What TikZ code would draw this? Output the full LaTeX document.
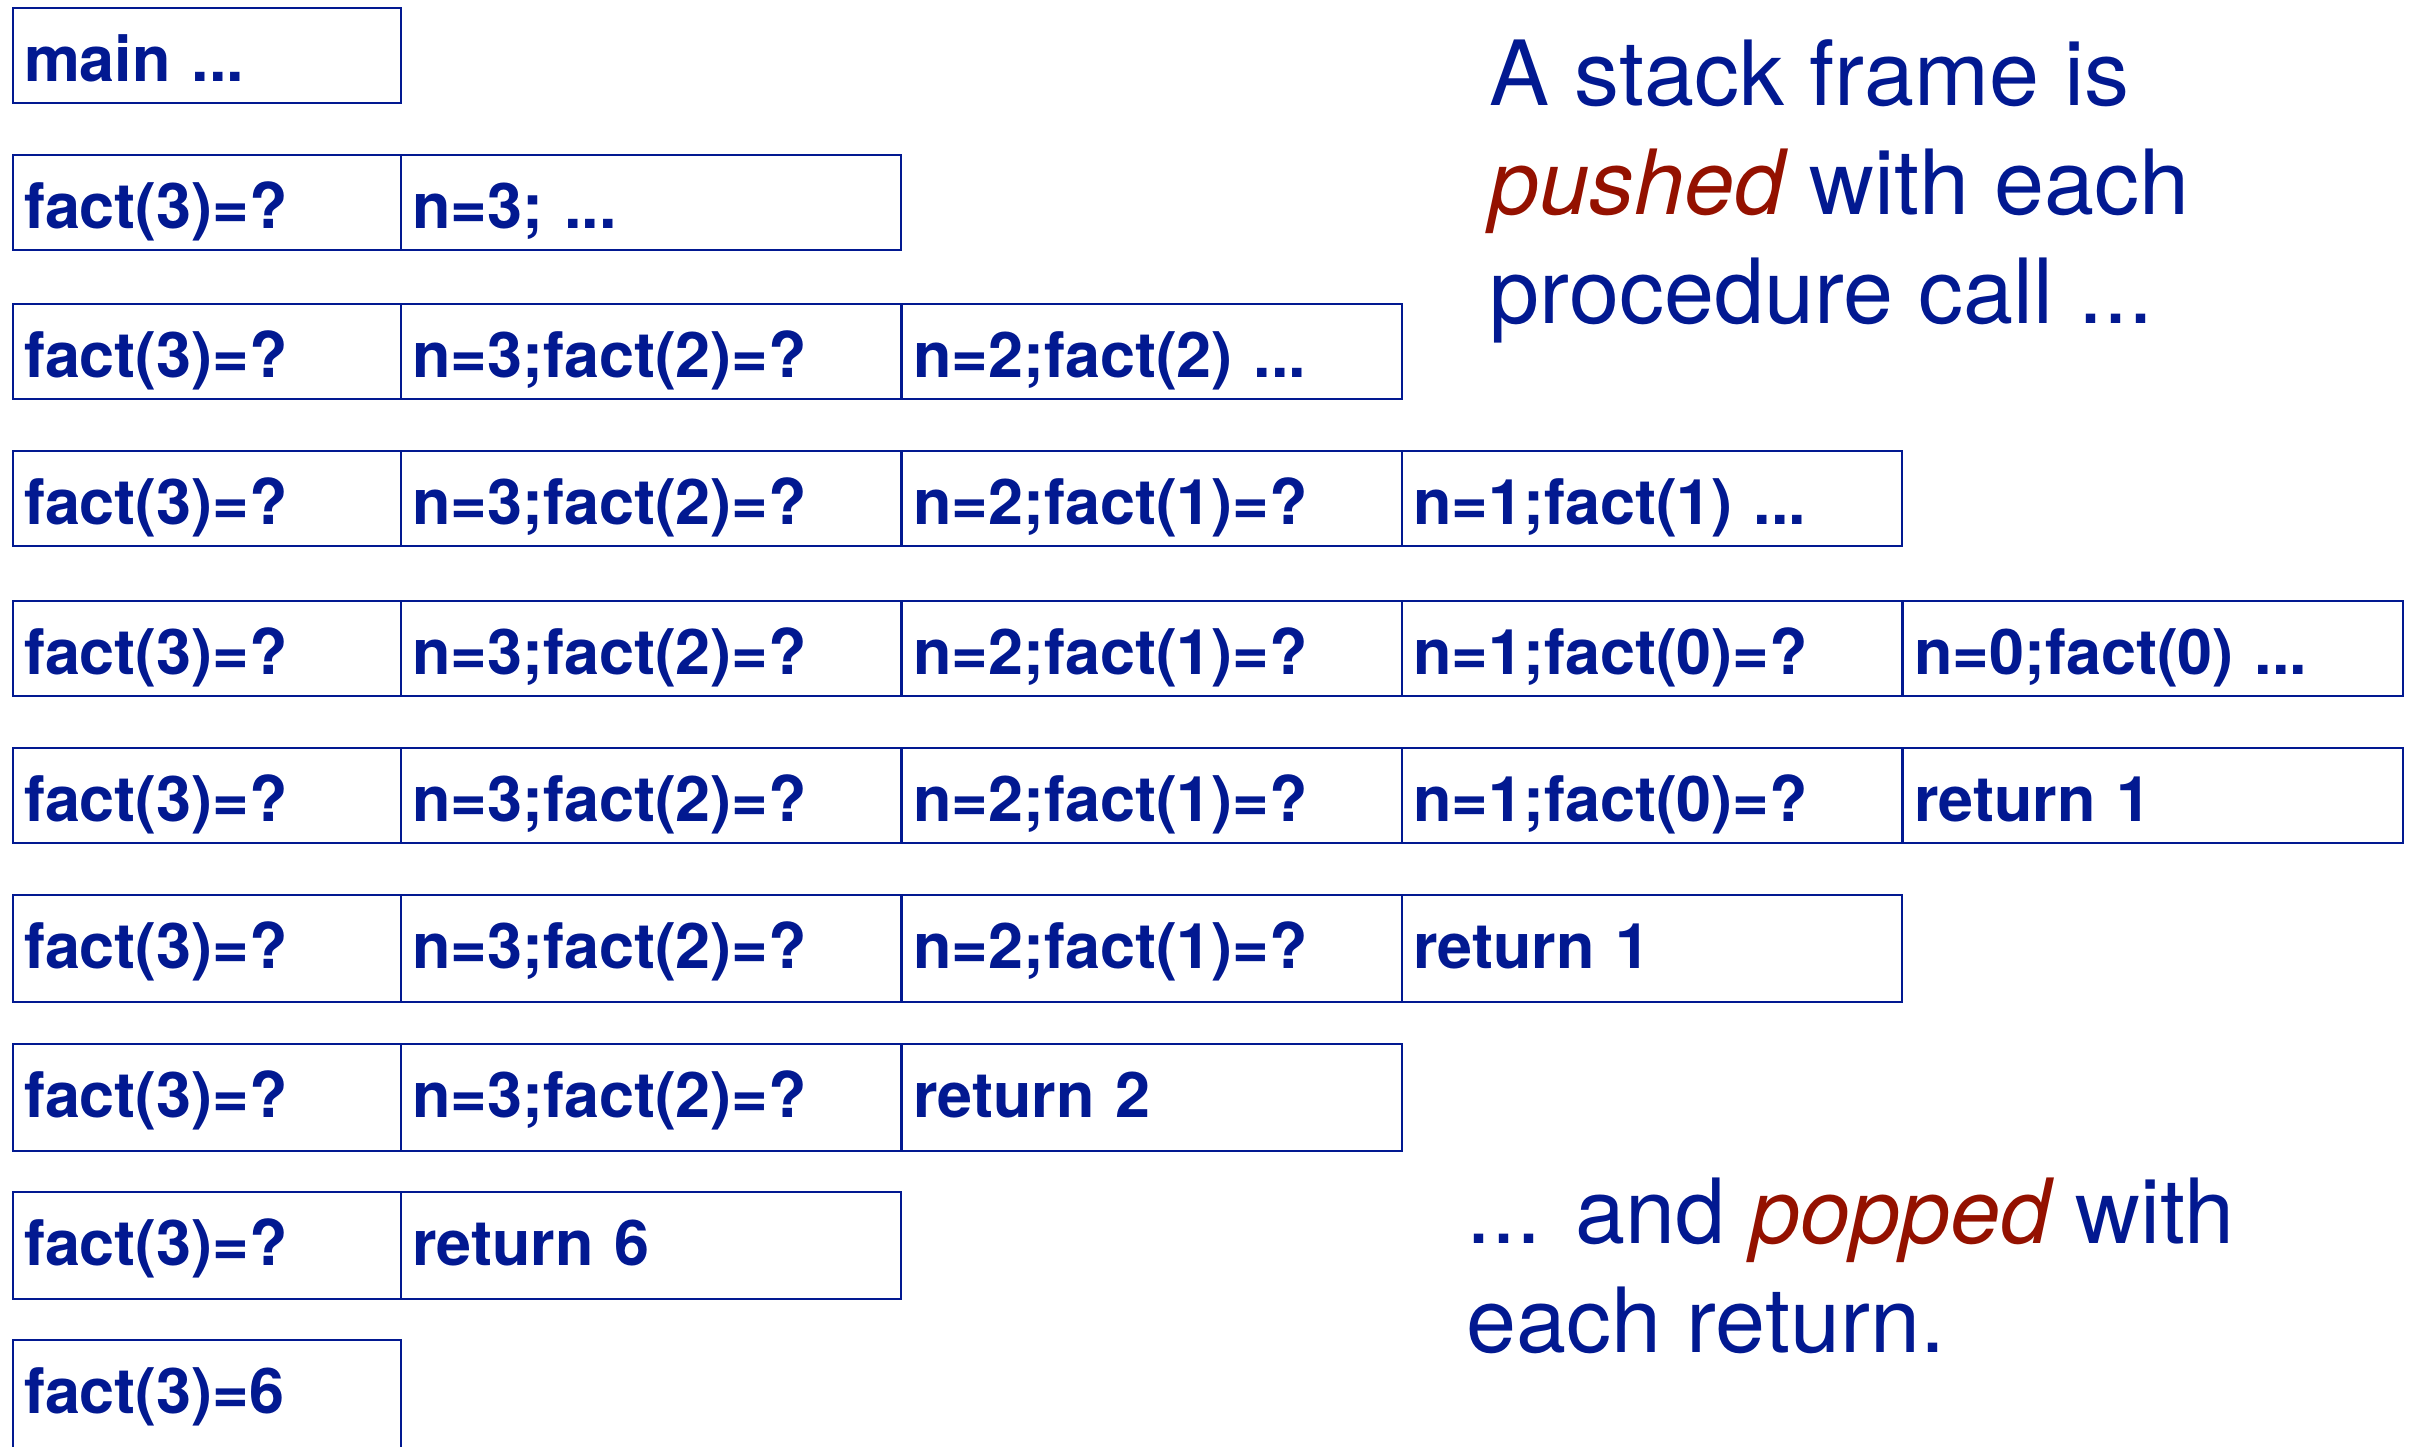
\documentclass[tikz,border=0pt]{standalone}
\usepackage{fontspec}
\setmainfont{TeX Gyre Heros}
\definecolor{stackblue}{RGB}{2,25,145}
\definecolor{stackred}{RGB}{148,17,0}
\tikzset{
  cell/.style={draw=stackblue, line width=0.6pt, anchor=north west, inner xsep=0.11cm, inner ysep=0pt,
    text width=4.78cm, text height=0.73cm, text depth=0.22cm, text=stackblue,
    font=\fontsize{17.9}{20}\selectfont\bfseries},
  firstcell/.style={cell, text width=3.66cm},
  tall/.style={text depth=0.34cm},
  remark/.style={anchor=base west, inner sep=0pt, text=stackblue, font=\fontsize{25.6}{31}\selectfont},
}
\begin{document}
\begin{tikzpicture}
            \useasboundingbox (0,0) rectangle (24.11,-14.47);
            % pushing
            \node[firstcell] (r1c1) at (0.12,-0.07) {main ...};
            \node[firstcell] (r2c1) at (0.12,-1.54) {fact(3)=?};
            \node[cell] (r2c2) at (4.00,-1.54) {n=3; ...};
            \node[firstcell] (r3c1) at (0.12,-3.03) {fact(3)=?};
            \node[cell] (r3c2) at (4.00,-3.03) {n=3;fact(2)=?};
            \node[cell] (r3c3) at (9.01,-3.03) {n=2;fact(2) ...};
            \node[firstcell] (r4c1) at (0.12,-4.50) {fact(3)=?};
            \node[cell] (r4c2) at (4.00,-4.50) {n=3;fact(2)=?};
            \node[cell] (r4c3) at (9.01,-4.50) {n=2;fact(1)=?};
            \node[cell] (r4c4) at (14.01,-4.50) {n=1;fact(1) ...};
            \node[firstcell] (r5c1) at (0.12,-6.00) {fact(3)=?};
            \node[cell] (r5c2) at (4.00,-6.00) {n=3;fact(2)=?};
            \node[cell] (r5c3) at (9.01,-6.00) {n=2;fact(1)=?};
            \node[cell] (r5c4) at (14.01,-6.00) {n=1;fact(0)=?};
            \node[cell] (r5c5) at (19.02,-6.00) {n=0;fact(0) ...};
            % popping
            \node[firstcell] (r6c1) at (0.12,-7.47) {fact(3)=?};
            \node[cell] (r6c2) at (4.00,-7.47) {n=3;fact(2)=?};
            \node[cell] (r6c3) at (9.01,-7.47) {n=2;fact(1)=?};
            \node[cell] (r6c4) at (14.01,-7.47) {n=1;fact(0)=?};
            \node[cell] (r6c5) at (19.02,-7.47) {return 1};
            \node[firstcell,tall] (r7c1) at (0.12,-8.94) {fact(3)=?};
            \node[cell,tall] (r7c2) at (4.00,-8.94) {n=3;fact(2)=?};
            \node[cell,tall] (r7c3) at (9.01,-8.94) {n=2;fact(1)=?};
            \node[cell,tall] (r7c4) at (14.01,-8.94) {return 1};
            \node[firstcell,tall] (r8c1) at (0.12,-10.43) {fact(3)=?};
            \node[cell,tall] (r8c2) at (4.00,-10.43) {n=3;fact(2)=?};
            \node[cell,tall] (r8c3) at (9.01,-10.43) {return 2};
            \node[firstcell,tall] (r9c1) at (0.12,-11.91) {fact(3)=?};
            \node[cell,tall] (r9c2) at (4.00,-11.91) {return 6};
            \node[firstcell,text depth=0.40cm] (r10c1) at (0.12,-13.39) {fact(3)=6};
            % remarks
            \node[remark] (push1) at (14.89,-1.06) {A stack frame is};
            \node[remark] (push2) at (14.89,-2.15) {\textcolor{stackred}{\itshape pushed} with each};
            \node[remark] (push3) at (14.89,-3.24) {procedure call ...};
            \node[remark] (pop1) at (14.66,-12.43) {... and \textcolor{stackred}{\itshape popped} with};
            \node[remark] (pop2) at (14.66,-13.52) {each return.};
\end{tikzpicture}
\end{document}
